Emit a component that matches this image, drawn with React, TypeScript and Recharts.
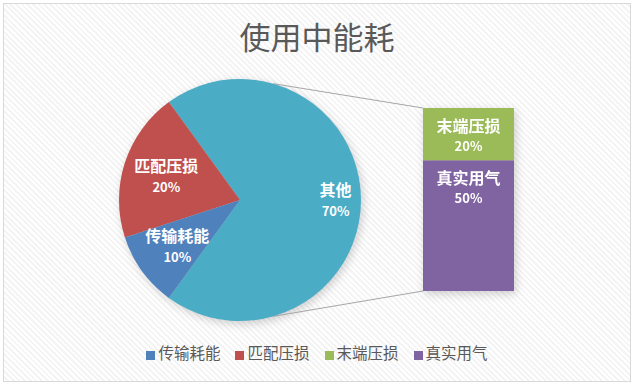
import { PieChart, Pie, Cell, BarChart, Bar, XAxis, YAxis, LabelList, Legend, Customized } from 'recharts'

// pie part
const pieNames = ['其他', '匹配压损', '传输耗能']
const pieValues = [70, 20, 10]

// the "其他" slice split out into the stacked bar
const barNames = ['真实用气', '末端压损']
const barValues = [50, 20]

const legendNames = ['传输耗能', '匹配压损', '末端压损', '真实用气']

const colors: Record<string, string> = {
  其他: '#4BACC6',
  匹配压损: '#C0504D',
  传输耗能: '#4F81BD',
  末端压损: '#9BBB59',
  真实用气: '#8064A2',
}

const font = '"Noto Sans CJK SC", "Noto Sans", sans-serif'
const W = 634
const H = 384

// layout
const CX = 240
const CY = 200
const R = 121
const BAR_LEFT = 423
const BAR_TOP = 108
const BAR_W = 91
const BAR_H = 183

const pieData = pieNames.map((name, i) => ({ name, value: pieValues[i] }))
const barRow: Record<string, string | number> = { cat: '其他' }
barNames.forEach((n, i) => (barRow[n] = barValues[i]))
const barData = [barRow]
const barTotal = barValues.reduce((a, b) => a + b, 0)

const RAD = Math.PI / 180

function PieLabel(props: any) {
  const { cx, cy, midAngle, outerRadius, name, value } = props
  const k = value > 50 ? 0.79 : 0.64
  const x = cx + outerRadius * k * Math.cos(-midAngle * RAD)
  const y = cy + outerRadius * k * Math.sin(-midAngle * RAD)
  return (
    <g>
      <text x={x} y={y - 4} textAnchor="middle" fill="#fff" fontSize={16} fontWeight={700} fontFamily={font}>
        {name}
      </text>
      <text x={x} y={y + 16} textAnchor="middle" fill="#fff" fontSize={13} fontWeight={700} fontFamily={font}>
        {value}%
      </text>
    </g>
  )
}

function Connectors() {
  // lines from the pie edge (±74°) to the corners of the bar, plus a soft shadow under the pie
  const a = 74 * RAD
  const x1 = CX + R * Math.cos(a)
  const yTop = CY - R * Math.sin(a)
  const yBot = CY + R * Math.sin(a)
  return (
    <g>
      <defs>
        <filter id="pieShadow" x="-20%" y="-20%" width="140%" height="140%">
          <feGaussianBlur stdDeviation="5" />
        </filter>
      </defs>
      <circle cx={CX + 2} cy={CY + 3} r={R} fill="#000" opacity={0.18} filter="url(#pieShadow)" />
      <g stroke="#a6a6a6" strokeWidth={1}>
        <line x1={x1} y1={yTop} x2={BAR_LEFT} y2={BAR_TOP} />
        <line x1={x1} y1={yBot} x2={BAR_LEFT} y2={BAR_TOP + BAR_H} />
      </g>
    </g>
  )
}

function LegendContent() {
  return (
    <div style={{ display: 'flex', justifyContent: 'center', gap: 15, fontFamily: font, fontSize: 15.5, color: '#595959' }}>
      {legendNames.map((n) => (
        <div key={n} style={{ display: 'flex', alignItems: 'center' }}>
          <span style={{ width: 9, height: 9, background: colors[n], marginRight: 3, marginTop: 7 }} />
          <span>{n}</span>
        </div>
      ))}
    </div>
  )
}

export default function App() {
  return (
    <>
      <style>{'body{margin:0}'}</style>
      <div
        style={{
          position: 'relative',
          width: W,
          height: H,
          background: '#fff',
          overflow: 'hidden',
        }}
      >
        <div
          style={{
            position: 'absolute',
            left: 3,
            top: 3,
            width: 626,
            height: 377,
            border: '1px solid #d9d9d9',
            background: 'repeating-linear-gradient(45deg, #ffffff 0px, #ffffff 2px, #f4f4f4 2px, #f4f4f4 4px)',
          }}
        />
        <div
          style={{
            position: 'absolute',
            left: 0,
            top: 14,
            width: W,
            textAlign: 'center',
            fontFamily: font,
            fontSize: 31,
            color: '#595959',
            lineHeight: '44px',
          }}
        >
          使用中能耗
        </div>
        <div style={{ position: 'absolute', left: 0, top: 0 }}>
          <PieChart width={W} height={H} margin={{ top: 0, right: 0, bottom: 0, left: 0 }}>
            <Customized component={Connectors} />
            <Pie
              data={pieData}
              dataKey="value"
              nameKey="name"
              cx={CX}
              cy={CY}
              outerRadius={R}
              startAngle={-126}
              endAngle={234}
              stroke="none"
              label={PieLabel}
              labelLine={false}
              isAnimationActive={false}
            >
              {pieData.map((d) => (
                <Cell key={d.name} fill={colors[d.name]} />
              ))}
            </Pie>
            <Legend
              content={LegendContent}
              wrapperStyle={{ position: 'absolute', left: 0, top: 341, width: W }}
            />
          </PieChart>
        </div>
        <div style={{ position: 'absolute', left: BAR_LEFT, top: BAR_TOP, filter: 'drop-shadow(2px 3px 4px rgba(0,0,0,0.18))' }}>
          <BarChart width={BAR_W} height={BAR_H} data={barData} margin={{ top: 0, right: 0, bottom: 0, left: 0 }} barCategoryGap={0}>
            <XAxis dataKey="cat" hide />
            <YAxis hide domain={[0, barTotal]} />
            {barNames.map((n) => (
              <Bar key={n} dataKey={n} stackId="s" fill={colors[n]} isAnimationActive={false}>
                <LabelList
                  dataKey={n}
                  content={(p: any) => (
                    <g>
                      <text x={p.x + p.width / 2} y={p.y + 24} textAnchor="middle" fill="#fff" fontSize={16} fontWeight={700} fontFamily={font}>
                        {n}
                      </text>
                      <text x={p.x + p.width / 2} y={p.y + 43} textAnchor="middle" fill="#fff" fontSize={13} fontWeight={700} fontFamily={font}>
                        {p.value}%
                      </text>
                    </g>
                  )}
                />
              </Bar>
            ))}
          </BarChart>
        </div>
      </div>
    </>
  )
}
